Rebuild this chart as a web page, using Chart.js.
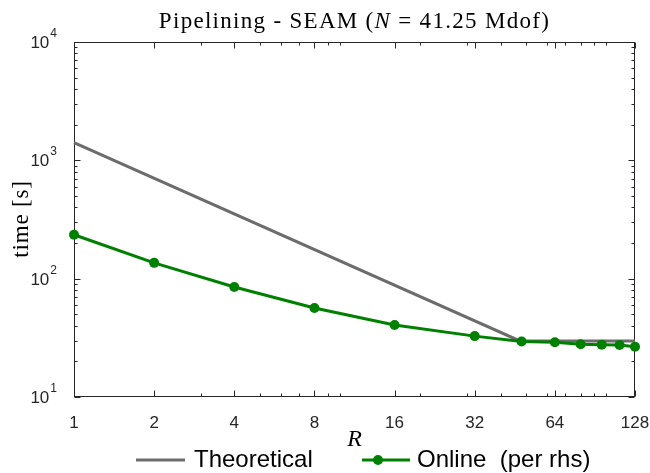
<!DOCTYPE html>
<html><head><meta charset="utf-8">
<script src="https://cdn.jsdelivr.net/npm/chart.js@4/dist/chart.umd.min.js"></script>
<style>
html,body{margin:0;padding:0;background:#fff;}
#wrap{position:relative;width:650px;height:473px;overflow:hidden;}
canvas{position:absolute;left:0;top:0;}
</style></head><body>
<div id="wrap"><canvas id="c" width="650" height="473"></canvas></div>
<script>
const X_TICKS = [1, 2, 4, 8, 16, 32, 64, 128];
const X_MINOR = [3, 5, 6, 7, 9, 10, 20, 30, 40, 50, 60, 70, 80, 90, 100];
const Y_TICKS = [10, 100, 1000, 10000];
const Y_EXP = ['1', '2', '3', '4'];
const Y_MINOR = [20, 30, 40, 50, 60, 70, 80, 90, 200, 300, 400, 500, 600, 700, 800, 900, 2000, 3000, 4000, 5000, 6000, 7000, 8000, 9000];
const R_VALUES = [1, 2, 4, 8, 16, 32, 48, 64, 80, 96, 112, 128];
const ONLINE = [235, 136, 85, 56.5, 40.6, 32.7, 29.4, 29.0, 27.9, 27.7, 27.5, 26.6];
const THEO_R = [1, 47.3, 128];
const THEO = [1409, 29.8, 29.8];
const TITLE_A = 'Pipelining - SEAM (';
const TITLE_N = 'N';
const TITLE_B = ' = 41.25 Mdof)';
const X_LABEL = 'R';
const Y_LABEL = 'time [s]';
const LEGEND = ['Theoretical', 'Online  (per rhs)'];

const GREY = '#6c6c6c', GREEN = '#008000', AX = '#262626';
const NARROW = "'Liberation Sans Narrow', 'Liberation Sans', Arial, sans-serif";
const SERIF = "'Liberation Serif', 'DejaVu Serif', serif";
const SANS = "'Liberation Sans', Arial, sans-serif";

const frame = {
  id: 'frame',
  beforeDatasetsDraw(chart) {
    const {ctx, chartArea: a, scales: {x, y}} = chart;
    ctx.save();
    ctx.strokeStyle = AX; ctx.lineWidth = 1;
    const L = Math.round(a.left) + 0.5, R = Math.round(a.right) - 0.5, T = Math.round(a.top) + 0.5, B = Math.round(a.bottom) - 0.5;
    ctx.strokeRect(L, T, R - L, B - T);
    ctx.beginPath();
    const tx = (v, len) => { const p = Math.round(x.getPixelForValue(v)) + 0.5; ctx.moveTo(p, B); ctx.lineTo(p, B - len); ctx.moveTo(p, T); ctx.lineTo(p, T + len); };
    const ty = (v, len) => { const p = Math.round(y.getPixelForValue(v)) + 0.5; ctx.moveTo(L, p); ctx.lineTo(L + len, p); ctx.moveTo(R, p); ctx.lineTo(R - len, p); };
    X_TICKS.forEach(v => tx(v, 6)); X_MINOR.forEach(v => tx(v, 3));
    Y_TICKS.forEach(v => ty(v, 6)); Y_MINOR.forEach(v => ty(v, 3));
    ctx.stroke();
    // y tick labels 10^k
    ctx.fillStyle = AX;
    Y_TICKS.forEach((v, i) => {
      const p = y.getPixelForValue(v);
      ctx.font = '12px ' + NARROW; ctx.textAlign = 'right'; ctx.textBaseline = 'alphabetic';
      const sw = ctx.measureText(Y_EXP[i]).width;
      ctx.fillText(Y_EXP[i], a.left - 17, p - 5);
      ctx.font = '17px ' + NARROW;
      ctx.fillText('10', a.left - 18 - sw, p + 6);
    });
    ctx.restore();
  },
  afterDraw(chart) {
    const {ctx, chartArea: a} = chart;
    ctx.save();
    ctx.fillStyle = '#000';
    // title
    const cx = (a.left + a.right) / 2;
    ctx.textBaseline = 'alphabetic'; ctx.textAlign = 'left';
    ctx.letterSpacing = '1.3px';
    ctx.font = '23px ' + SERIF; const wa = ctx.measureText(TITLE_A).width, wb = ctx.measureText(TITLE_B).width;
    ctx.font = 'italic 23px ' + SERIF; const wn = ctx.measureText(TITLE_N).width;
    let sx = cx - (wa + wn + wb) / 2;
    ctx.font = '23px ' + SERIF; ctx.fillText(TITLE_A, sx, 28);
    ctx.font = 'italic 23px ' + SERIF; ctx.fillText(TITLE_N, sx + wa, 28);
    ctx.font = '23px ' + SERIF; ctx.fillText(TITLE_B, sx + wa + wn, 28);
    // x label
    ctx.letterSpacing = '0px';
    ctx.font = 'italic 24px ' + SERIF; ctx.textAlign = 'center';
    ctx.fillText(X_LABEL, cx, 446);
    // y label
    ctx.save(); ctx.translate(28, 219); ctx.rotate(-Math.PI / 2);
    ctx.letterSpacing = '0.8px';
    ctx.font = '23px ' + SERIF; ctx.textAlign = 'center'; ctx.fillText(Y_LABEL, 0, 0);
    ctx.restore();
    ctx.letterSpacing = '0px';
    // legend
    ctx.lineWidth = 3; ctx.lineCap = 'butt';
    ctx.strokeStyle = GREY; ctx.beginPath(); ctx.moveTo(136, 460); ctx.lineTo(185, 460); ctx.stroke();
    ctx.strokeStyle = GREEN; ctx.beginPath(); ctx.moveTo(362, 460); ctx.lineTo(410, 460); ctx.stroke();
    ctx.fillStyle = GREEN; ctx.beginPath(); ctx.arc(378, 460, 5, 0, Math.PI * 2); ctx.fill();
    ctx.fillStyle = '#000'; ctx.font = '24px ' + SANS; ctx.textAlign = 'left';
    ctx.fillText(LEGEND[0], 194, 467);
    ctx.fillText(LEGEND[1], 417, 467);
    ctx.restore();
  }
};

new Chart(document.getElementById('c'), {
  type: 'scatter',
  data: {
    datasets: [
      { label: LEGEND[0], data: THEO_R.map((r, i) => ({x: r, y: THEO[i]})), showLine: true,
        borderColor: GREY, backgroundColor: GREY, borderWidth: 3, pointRadius: 0, pointHoverRadius: 0, clip: false, order: 2 },
      { label: LEGEND[1], data: R_VALUES.map((r, i) => ({x: r, y: ONLINE[i]})), showLine: true,
        borderColor: GREEN, backgroundColor: GREEN, borderWidth: 3, pointRadius: 5, pointBorderWidth: 0, pointHoverRadius: 5, clip: false, order: 1 }
    ]
  },
  options: {
    responsive: false, animation: false, devicePixelRatio: 1,
    layout: { padding: { top: 42, right: 15, bottom: 0, left: 0 } },
    plugins: { legend: { display: false }, title: { display: false }, tooltip: { enabled: false } },
    scales: {
      x: {
        type: 'logarithmic', min: 1, max: 128,
        afterBuildTicks: s => { s.ticks = X_TICKS.map(v => ({value: v})); },
        afterFit: s => { s.height = 76; s.paddingRight = 0; s.paddingLeft = 0; },
        grid: { display: false }, border: { display: false },
        ticks: { autoSkip: false, maxRotation: 0, padding: 8, color: AX,
          font: { family: NARROW, size: 17 }, callback: v => String(v) }
      },
      y: {
        type: 'logarithmic', min: 10, max: 10000,
        afterBuildTicks: s => { s.ticks = Y_TICKS.map(v => ({value: v})); },
        afterFit: s => { s.width = 74; s.paddingTop = 0; s.paddingBottom = 0; },
        grid: { display: false }, border: { display: false },
        ticks: { display: false }
      }
    }
  },
  plugins: [frame]
});
</script>
</body></html>
